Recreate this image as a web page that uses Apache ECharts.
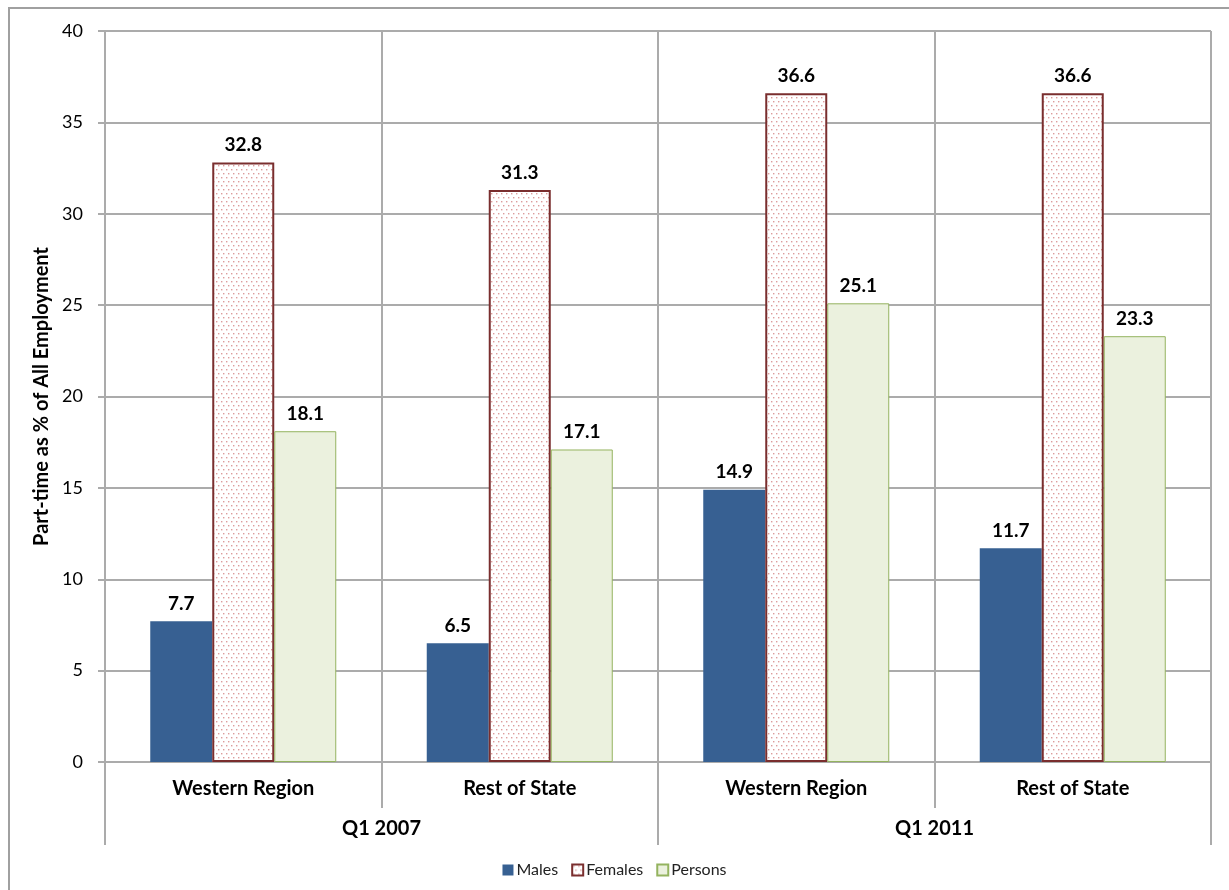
<!DOCTYPE html>
<html>
<head>
<meta charset="utf-8">
<script src="https://cdn.jsdelivr.net/npm/echarts@6/dist/echarts.min.js"></script>
<style>
  html, body { margin: 0; padding: 0; background: #fff; }
  #chart { width: 1229px; height: 890px; }
</style>
</head>
<body>
<div id="chart"></div>
<script>
// Part-time employment share by region and quarter
const regions = ['Western Region', 'Rest of State', 'Western Region', 'Rest of State'];
const periods = ['Q1 2007', 'Q1 2011'];
const males = [7.7, 6.5, 14.9, 11.7];
const females = [32.8, 31.3, 36.6, 36.6];
const persons = [18.1, 17.1, 25.1, 23.3];
const yTicks = { min: 0, max: 40, step: 5 };

// Dotted fill for the Females bars
function dotPattern() {
  const c = document.createElement('canvas');
  c.width = 10; c.height = 8;
  const ctx = c.getContext('2d');
  ctx.fillStyle = '#ffffff';
  ctx.fillRect(0, 0, 10, 8);
  ctx.fillStyle = '#dc9c9c';
  [[1, 1], [6, 1], [3, 5], [8, 5]].forEach(([x, y]) => ctx.fillRect(x, y, 1.4, 1.4));
  return c;
}

const font = 'Lato, "Open Sans", sans-serif';
const gridColor = '#ababab';
const labelStyle = {
  show: true,
  position: 'top',
  distance: 8,
  color: '#000',
  fontFamily: font,
  fontWeight: 'bold',
  fontSize: 19,
  formatter: p => p.value.toFixed(1)
};

const chart = echarts.init(document.getElementById('chart'), null, { renderer: 'canvas' });
chart.setOption({
  animation: false,
  backgroundColor: '#fff',
  graphic: [{
    type: 'rect',
    z: -10,
    shape: { x: 9, y: 8, width: 1400, height: 1000 },
    style: { fill: 'none', stroke: '#a0a0a0', lineWidth: 2 }
  }],
  grid: { left: 105, right: 18, top: 31, bottom: 128 },
  legend: {
    bottom: 7,
    left: 'center',
    itemWidth: 11,
    itemHeight: 11,
    itemGap: 13,
    icon: 'rect',
    textStyle: { fontFamily: font, fontSize: 16, color: '#222', padding: [0, 0, 0, -2] },
    data: ['Males', 'Females', 'Persons']
  },
  xAxis: [{
    type: 'category',
    data: regions,
    position: 'bottom',
    axisLine: { show: true, lineStyle: { color: gridColor, width: 2 } },
    axisTick: { show: true, interval: 0, length: 46, lineStyle: { color: gridColor, width: 2 } },
    splitLine: { show: true, interval: 0, lineStyle: { color: gridColor, width: 2 } },
    axisLabel: { interval: 0, margin: 17, color: '#000', fontFamily: font, fontWeight: 'bold', fontSize: 20 }
  }, {
    type: 'category',
    data: periods,
    position: 'bottom',
    axisLine: { show: false },
    axisTick: { show: true, interval: 0, length: 83, lineStyle: { color: gridColor, width: 2 } },
    splitLine: { show: false },
    axisLabel: { interval: 0, margin: 57, color: '#000', fontFamily: font, fontWeight: 'bold', fontSize: 20 }
  }],
  yAxis: {
    type: 'value',
    min: yTicks.min,
    max: yTicks.max,
    interval: yTicks.step,
    name: 'Part-time as % of All Employment',
    nameLocation: 'middle',
    nameGap: 50,
    nameTextStyle: { color: '#000', fontFamily: font, fontWeight: 'bold', fontSize: 20 },
    axisLine: { show: true, lineStyle: { color: gridColor, width: 2 } },
    axisTick: { show: true, length: 7, lineStyle: { color: gridColor, width: 2 } },
    splitLine: { show: true, lineStyle: { color: gridColor, width: 2 } },
    axisLabel: { margin: 22, color: '#000', fontFamily: font, fontSize: 18 }
  },
  series: [{
    name: 'Males',
    type: 'bar',
    data: males,
    barWidth: 62,
    barGap: '0%',
    itemStyle: { color: '#376092' },
    label: labelStyle
  }, {
    name: 'Females',
    type: 'bar',
    data: females,
    barWidth: 62,
    barGap: '0%',
    itemStyle: {
      color: { image: dotPattern(), repeat: 'repeat' },
      borderColor: '#7a2e2e',
      borderWidth: 2
    },
    label: labelStyle
  }, {
    name: 'Persons',
    type: 'bar',
    data: persons,
    barWidth: 62,
    barGap: '0%',
    itemStyle: { color: '#ebf1de', borderColor: '#94b35f', borderWidth: 1 },
    label: labelStyle
  }]
});
</script>
</body>
</html>
